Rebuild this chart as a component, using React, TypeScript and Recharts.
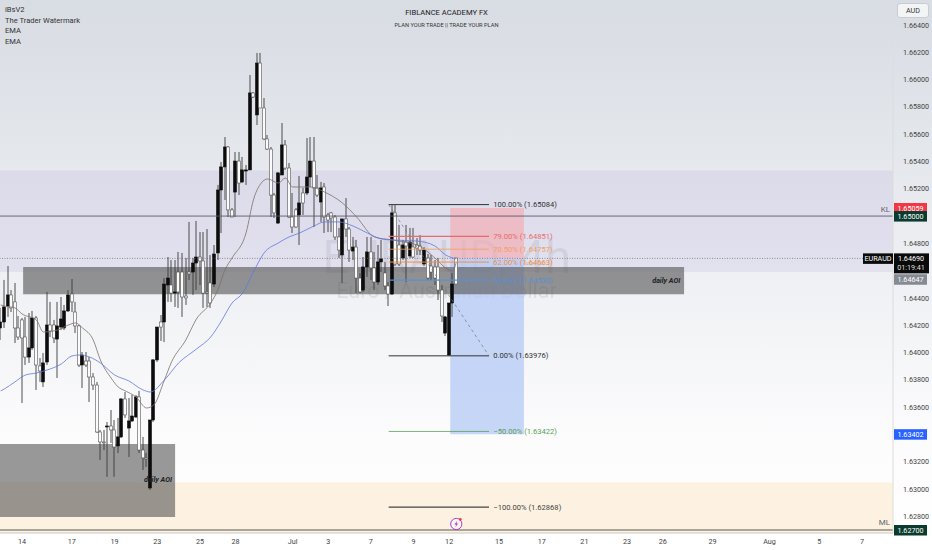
import React from "react";
import { ComposedChart, Bar, Line, XAxis, YAxis, ReferenceArea, ReferenceLine, ReferenceDot } from "recharts";

// All prices below are in 1/100000 of a EUR/AUD unit (164690 = 1.64690)
const highs = [164327,164532,164634,164458,164510,164268,164253,164261,164290,164305,164268,163960,163997,164444,164371,164239,164371,164407,164349,164458,164539,164371,164202,164004,164004,163967,163850,163785,163433,163433,163491,163579,163506,163521,163667,163711,163667,163689,163689,163719,163382,163264,163506,163953,164187,164275,164546,164700,164678,164678,164737,164730,164693,164957,164693,164964,164883,164883,164905,164715,164788,165228,165396,165579,165513,165059,165469,165469,165433,165374,166034,165909,166195,166195,165865,165594,165506,165169,165323,165682,165557,165389,165169,165059,165294,165206,165572,165579,165579,165301,165250,165242,165023,165030,165008,164913,164979,165132,164920,164847,164825,164583,164700,164847,164847,164737,164788,164825,164664,164517,165081,165081,164935,164825,164935,164913,164913,164839,164861,164773,164722,164715,164678,164693,164495,164268,164363,164583,164693];
const bodyHighs = [164224,164334,164422,164422,164371,164180,164239,164114,164034,164253,164253,163902,163924,164202,164202,164202,164195,164246,164305,164422,164429,164297,164195,163982,163938,163938,163821,163762,163418,163345,163462,163462,163433,163382,163660,163660,163499,163535,163675,163675,163286,163228,163506,163946,164187,164224,164502,164546,164495,164444,164590,164590,164414,164590,164656,164700,164700,164671,164444,164510,164722,165191,165360,165506,165506,165045,165403,165403,165338,165338,165902,165902,166121,166121,165792,165565,165491,165154,165316,165521,165521,165352,164993,165045,165096,165169,165286,165403,165403,165206,165206,165213,165008,165023,164993,164847,164979,164979,164905,164773,164773,164546,164627,164737,164737,164620,164664,164686,164583,164488,165023,165023,164788,164788,164810,164810,164773,164788,164781,164751,164693,164634,164627,164627,164458,164261,164363,164502,164693];
const bodyLows = [164180,164224,164341,164327,164180,164114,164107,163967,163967,164034,163909,163865,163785,163931,164158,164107,164099,164187,164180,164305,164371,164195,163909,163909,163909,163821,163762,163418,163345,163338,163455,163433,163308,163316,163382,163543,163447,163499,163528,163286,163228,163220,163008,163506,163946,164187,164224,164495,164436,164436,164444,164407,164400,164576,164590,164656,164671,164436,164436,164363,164502,164730,165191,165360,165045,164993,165176,165242,165250,165330,165338,165872,165741,165792,165565,165491,165154,165023,164949,165301,165352,164993,164920,164920,165008,165096,165169,165286,165206,165154,165103,164993,164971,164986,164847,164751,164715,164905,164751,164744,164546,164444,164458,164627,164620,164517,164517,164664,164488,164429,164429,164649,164649,164693,164781,164708,164700,164766,164751,164649,164546,164590,164546,164458,164268,164143,163982,164363,164502];
const lows = [164092,164180,164261,164297,164070,164092,163631,163909,163924,164019,163726,163785,163748,163909,164114,164070,163814,164165,164165,164297,164297,164143,163894,163740,163894,163638,163726,163411,163213,163286,163089,163338,163089,163264,163374,163521,163235,163491,163521,163264,163140,163162,162993,163491,163931,164085,164077,164371,164371,164334,164327,164261,164349,164532,164422,164458,164495,164327,164334,164327,164480,164678,164876,165118,164993,164993,164993,165154,165242,165228,165338,165865,165667,165792,165557,165484,164993,164986,164942,165301,165338,164986,164876,164913,164788,165008,165154,165213,164920,165140,164957,164876,164883,164883,164825,164693,164510,164847,164664,164678,164436,164436,164444,164554,164532,164458,164495,164590,164458,164341,164422,164634,164634,164678,164517,164693,164693,164715,164715,164634,164532,164532,164495,164385,164224,164121,163975,164261,164502];
const directions = "UUUDDDDDUUDDUUDDUUUUDDDUDDDDDDUDDUUDUUUDDDUUUDUUDUDDDDUUDDDDUUUUDDUDUUUDUDDDDDUUDDDDUDUUDDUDDDDDUDDUDDUUDDUUDDUDDUDUDDDUDDDDDUUU";

const blueIdx = [0,1,4,7,10,13,17,20,22,25,28,32,36,40,42,46,50,55,59,62,65,68,71,74,78,81,84,88,91,95,99,103,107,110,117,122,125,128];
const blueEma = [163719,163733,163785,163836,163850,163872,163916,163975,163982,163967,163924,163836,163792,163726,163711,163799,163924,164026,164114,164231,164363,164436,164590,164730,164803,164847,164876,164927,164957,164957,164927,164876,164832,164825,164817,164781,164715,164686];
const brownIdx = [0,1,4,6,10,12,16,19,21,23,26,28,31,33,35,38,41,43,46,48,52,55,59,61,63,65,69,71,73,75,78,80,82,87,91,96,100,105,110,117,122,125,127,128];
const brownEma = [164349,164341,164327,164283,164239,164151,164165,164202,164217,164180,164092,163946,163814,163748,163719,163675,163594,163616,163799,163931,164092,164246,164363,164458,164605,164693,164883,165118,165235,165272,165242,165279,165213,165213,165176,165096,164993,164847,164825,164788,164693,164620,164598,164664];

const yTicks = [1.664,1.662,1.66,1.658,1.656,1.654,1.652,1.648,1.644,1.642,1.64,1.638,1.636,1.632,1.63,1.628];
const xTickIdx = [6,20,32,44,56,66,82,92,104,116,126,140,152,164,176,186,200,216,230,242];
const xTickText = ["14","17","19","23","25","28","Jul","3","7","9","12","15","17","21","23","26","29","Aug","5","7"];

const fibPrices = [1.65084,1.64851,1.64757,1.64663,1.6453,1.63976,1.63422,1.62868];
const fibNames = ["100.00%","79.00%","70.50%","62.00%","50.00%","0.00%","−50.00%","−100.00%"];
const fibColors = ["#333","#e86a6a","#f0a060","#f09040","#5b8fd0","#333","#5aa05a","#444"];
const fibWidths = [1,1.1,0.8,1,1.2,1,0.8,1.2];

const badgePrices = [1.65059,1.65,1.63402,1.627];
const badgeColors = ["#f23645","#0b3b2e","#2962ff","#0b3b2e"];

const table = highs.map((h, i) => {
  const b = blueIdx.indexOf(i), r = brownIdx.indexOf(i);
  return {
    i,
    range: [lows[i] / 1e5, h / 1e5],
    high: h / 1e5, low: lows[i] / 1e5,
    bodyHigh: bodyHighs[i] / 1e5, bodyLow: bodyLows[i] / 1e5,
    up: directions[i] === "U",
    blue: b >= 0 ? blueEma[b] / 1e5 : null,
    brown: r >= 0 ? brownEma[r] / 1e5 : null,
  };
});

const W = 932, H = 550, AXW = 39, AXH = 17;
const FONT = "Roboto, 'Noto Sans', sans-serif";

const Candle = (p: any) => {
  const { x, y, width, height, payload: d } = p;
  const cx = Math.round(x + width / 2) + 0.0;
  const span = d.high - d.low || 1;
  const top = y + (height * (d.high - d.bodyHigh)) / span;
  const bot = y + (height * (d.high - d.bodyLow)) / span;
  return (
    <g>
      <line x1={cx} x2={cx} y1={y} y2={y + height} stroke="#3a3a3a" strokeWidth={0.9} />
      <rect x={cx - 1.5} width={3} y={top} height={Math.max(bot - top, 0.8)}
        fill={d.up ? "#0c0c0c" : "#fbfbfb"} stroke={d.up ? "#0c0c0c" : "#555"} strokeWidth={0.6} />
    </g>
  );
};

const txt = (s: string, o: any = {}) => (p: any) => (
  <text x={p.cx + (o.dx || 0)} y={p.cy + (o.dy || 0)} fontFamily={FONT} fontSize={o.size || 7.5}
    fontStyle={o.italic ? "italic" : "normal"} fontWeight={o.bold ? 700 : 400}
    fill={o.fill || "#333"} textAnchor={o.anchor || "start"} dominantBaseline="central">{s}</text>
);

const badge = (label: string, bg: string, dy = 0) => (p: any) => (
  <g>
    <rect x={p.cx + 1} y={p.cy - 5 + dy} width={33} height={10.5} fill={bg} />
    <text x={p.cx + 17.5} y={p.cy + dy + 0.3} fontFamily={FONT} fontSize={7.2} fill="#fff"
      textAnchor="middle" dominantBaseline="central">{label}</text>
  </g>
);

const XMAX = 250.7, XMIN = -0.197;

export default function App() {
  return (
    <div style={{ position: "absolute", left: 0, top: 0, width: W, height: H, overflow: "hidden",
      background: "linear-gradient(180deg,#d8dce3 0%,#e3e6eb 25%,#f1f2f5 55%,#fcfcfd 80%,#ffffff 100%)", fontFamily: FONT }}>
      <div style={{ position: "absolute", left: 0, width: 893, top: 233, textAlign: "center", fontSize: 47, lineHeight: "47px", color: "rgba(40,40,60,0.1)" }}>EURAUD, 4h</div>
      <div style={{ position: "absolute", left: 0, width: 893, top: 278, textAlign: "center", fontSize: 21.5, lineHeight: "26px", color: "rgba(40,40,60,0.11)" }}>Euro / Australian Dollar</div>
      <div style={{ position: "absolute", left: 0, top: 0 }}>
        <ComposedChart width={W} height={H} data={table} margin={{ top: 0, right: 0, bottom: 0, left: 0 }} barGap={0}>
          <XAxis dataKey="i" type="number" domain={[XMIN, XMAX]} allowDataOverflow ticks={xTickIdx}
            interval={0} height={AXH} tickLine={false} axisLine={{ stroke: "#c8c8c8" }}
            tick={{ fontSize: 7.2, fill: "#444", fontFamily: FONT }} tickMargin={0}
            tickFormatter={(v: number) => xTickText[xTickIdx.indexOf(v)]} />
          <YAxis orientation="right" width={AXW} domain={[1.62678, 1.66583]} allowDataOverflow ticks={yTicks}
            interval={0} tickLine={false} axisLine={{ stroke: "#dcdcdc" }} tickMargin={4}
            tick={{ fontSize: 7.2, fill: "#444", fontFamily: FONT }} tickFormatter={(v: number) => v.toFixed(5)} />

          <ReferenceArea y1={1.6459} y2={1.65333} fill="#b3a6dc" fillOpacity={0.2} stroke="none" />
          <ReferenceArea y1={1.62678} y2={1.63048} fill="#fdf0dc" fillOpacity={0.85} stroke="none" />
          <ReferenceArea x1={126.3} x2={147} y1={1.6469} y2={1.65059} fill="#f5aab2" fillOpacity={0.65} stroke="none" />
          <ReferenceArea x1={126.3} x2={147} y1={1.63402} y2={1.6469} fill="#b4c9f5" fillOpacity={0.75} stroke="none" />

          <ReferenceLine y={1.65} stroke="#555c6a" strokeWidth={0.9} />
          <ReferenceLine y={1.627} stroke="#8d8d7e" strokeWidth={1.6} />
          <ReferenceLine y={1.6469} stroke="#666" strokeWidth={0.7} strokeDasharray="1 1.5" />

          <Line dataKey="brown" type="monotone" connectNulls dot={false} activeDot={false} stroke="#7d6f68" strokeWidth={0.8} isAnimationActive={false} />
          <Line dataKey="blue" type="monotone" connectNulls dot={false} activeDot={false} stroke="#5f78d8" strokeWidth={0.8} isAnimationActive={false} />
          <Bar dataKey="range" barSize={3} shape={Candle} activeBar={false} isAnimationActive={false} />

          <ReferenceArea x1={6.3} x2={192} y1={1.64427} y2={1.64627} fill="#555" fillOpacity={0.62} stroke="none" />
          <ReferenceArea x1={XMIN} x2={49} y1={1.62795} y2={1.6333} fill="#555" fillOpacity={0.6} stroke="none" />

          {fibPrices.map((p, k) => (
            <ReferenceLine key={p} segment={[{ x: 109, y: p }, { x: 137.2, y: p }]} stroke={fibColors[k]} strokeWidth={fibWidths[k]} />
          ))}
          {fibPrices.map((p, k) => (
            <ReferenceDot key={"l" + p} x={138.4} y={p} r={0} shape={txt(`${fibNames[k]} (${p.toFixed(5)})`, { size: 7.6, fill: fibColors[k] })} />
          ))}
          <ReferenceLine segment={[{ x: 109, y: 1.65084 }, { x: 137.2, y: 1.63976 }]} stroke="#777" strokeWidth={0.7} strokeDasharray="3 3" />

          <ReferenceDot x={187} y={1.64527} r={0} shape={txt("daily AOI", { size: 7.2, italic: true, bold: true, fill: "#222", anchor: "middle" })} />
          <ReferenceDot x={44.2} y={1.63067} r={0} shape={txt("daily AOI", { size: 7.2, italic: true, bold: true, fill: "#222", anchor: "middle" })} />
          <ReferenceDot x={XMAX} y={1.65} r={0} shape={txt("KL", { size: 8, fill: "#666", anchor: "end", dx: -3, dy: -7 })} />
          <ReferenceDot x={XMAX} y={1.627} r={0} shape={txt("ML", { size: 8, fill: "#666", anchor: "end", dx: -3, dy: -7 })} />

          <ReferenceDot x={128} y={1.62744} r={0} shape={(p: any) => (
            <g>
              <circle cx={p.cx} cy={p.cy} r={5.6} fill="#fff" fillOpacity={0.3} stroke="#a02bd0" strokeWidth={0.9} />
              <path d={`M${p.cx + 1} ${p.cy - 3.2}L${p.cx - 1.8} ${p.cy + 0.5}H${p.cx}L${p.cx - 1} ${p.cy + 3.2}L${p.cx + 1.8} ${p.cy - 0.5}H${p.cx}Z`} fill="#a02bd0" />
              <circle cx={p.cx + 4} cy={p.cy - 4.6} r={1.4} fill="#f23645" />
            </g>
          )} />

          {badgePrices.map((p, k) => (
            <ReferenceDot key={"b" + p} x={XMAX} y={p} r={0} ifOverflow="visible" shape={badge(p.toFixed(5), badgeColors[k])} />
          ))}
          <ReferenceDot x={XMAX} y={1.6469} r={0} ifOverflow="visible" shape={(p: any) => (
            <g>
              <rect x={p.cx - 30} y={p.cy - 5} width={30} height={10.5} fill="#0a0a0a" />
              <text x={p.cx - 15} y={p.cy + 0.3} fontFamily={FONT} fontSize={7.2} fill="#fff" textAnchor="middle" dominantBaseline="central">EURAUD</text>
              <rect x={p.cx + 1} y={p.cy - 5} width={35} height={20} fill="#0a0a0a" />
              <text x={p.cx + 18} y={p.cy + 0.3} fontFamily={FONT} fontSize={7.2} fill="#fff" textAnchor="middle" dominantBaseline="central">1.64690</text>
              <text x={p.cx + 18} y={p.cy + 9.5} fontFamily={FONT} fontSize={7.2} fill="#ddd" textAnchor="middle" dominantBaseline="central">01:19:41</text>
            </g>
          )} />
          <ReferenceDot x={XMAX} y={1.64647} r={0} ifOverflow="visible" shape={badge("1.64647", "#868a92", 15)} />
        </ComposedChart>
      </div>

      <div style={{ position: "absolute", left: 5, top: 5, fontSize: 7.6, lineHeight: "10.5px", color: "#333" }}>
        <div>iBsV2</div><div>The Trader Watermark</div><div>EMA</div><div>EMA</div>
      </div>
      <div style={{ position: "absolute", left: 0, width: 893, top: 8, textAlign: "center", fontSize: 7.6, lineHeight: "10px", color: "#222" }}>FIBLANCE ACADEMY FX</div>
      <div style={{ position: "absolute", left: 0, width: 893, top: 21, textAlign: "center", fontSize: 5.7, lineHeight: "8px", color: "#333" }}>PLAN YOUR TRADE || TRADE YOUR PLAN</div>
      <div style={{ position: "absolute", left: 897, top: 3, width: 30, height: 13, border: "1px solid #c9ccd2", borderRadius: 3, background: "#f3f4f6", textAlign: "center", fontSize: 7.2, lineHeight: "13px", color: "#333" }}>AUD</div>
    </div>
  );
}
